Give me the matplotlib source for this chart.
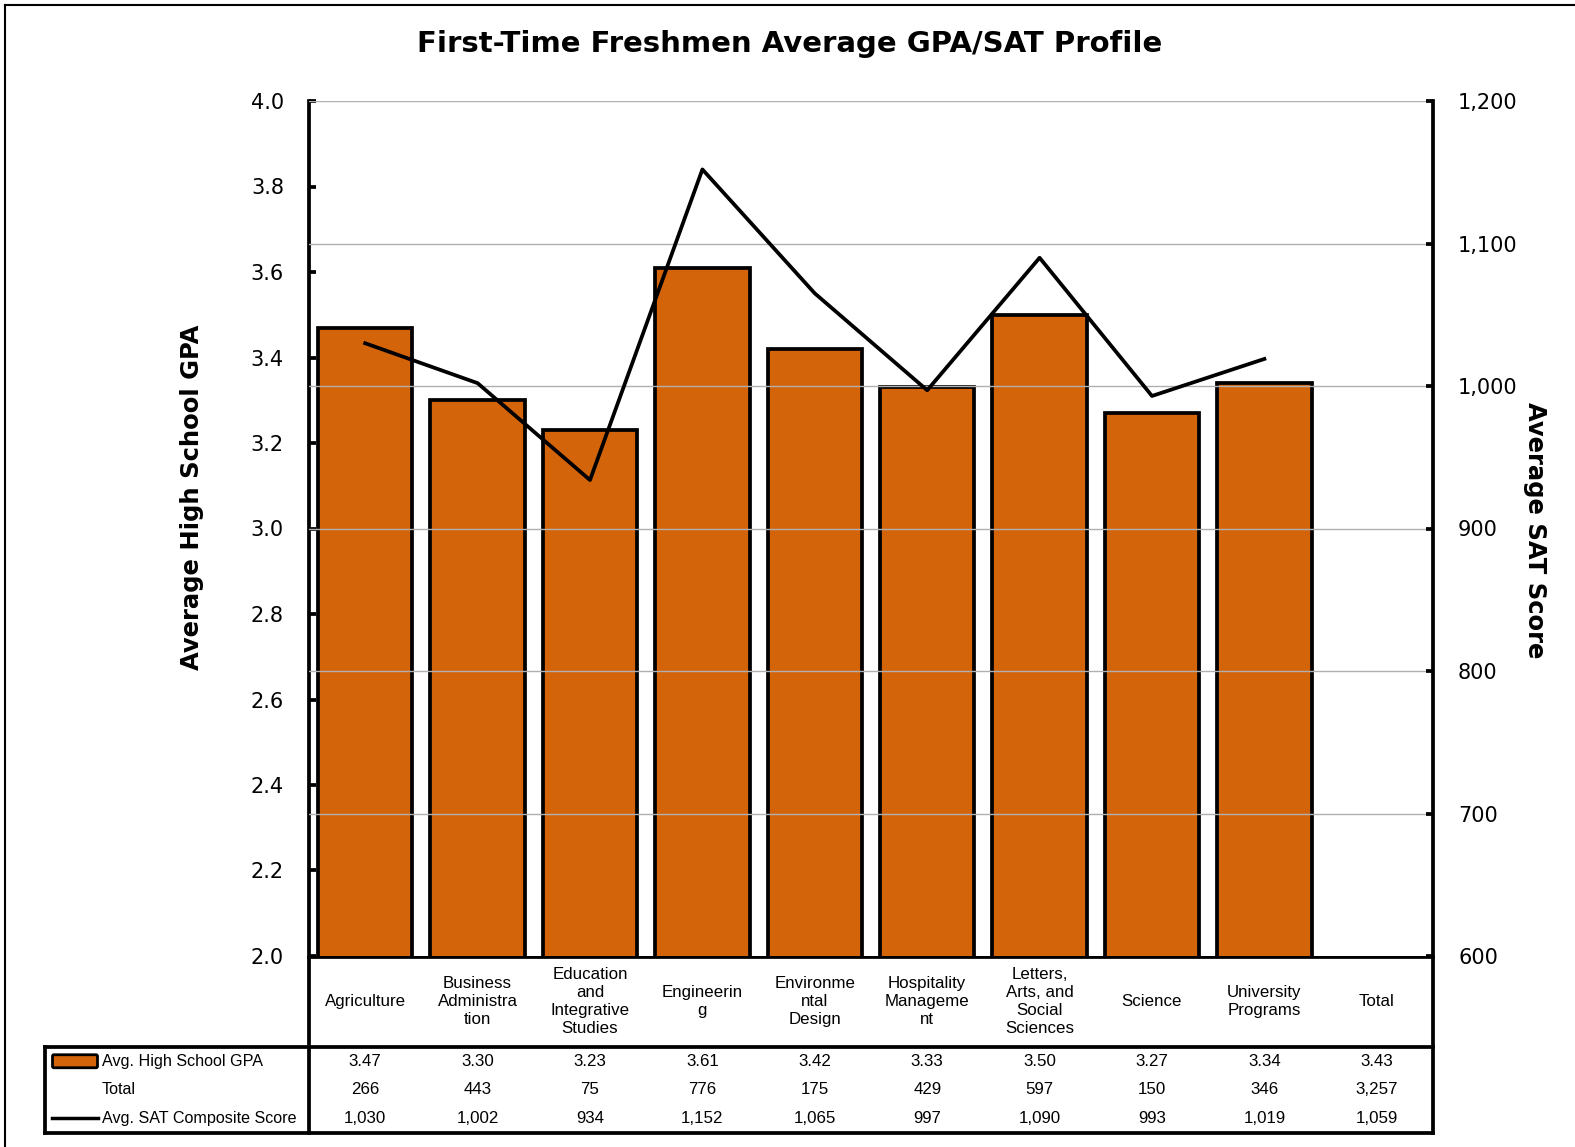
import matplotlib
matplotlib.use("Agg")
import matplotlib.pyplot as plt
from matplotlib.patches import FancyBboxPatch
from matplotlib.lines import Line2D

categories = ["Agriculture", "Business\nAdministra\ntion", "Education\nand\nIntegrative\nStudies",
              "Engineerin\ng", "Environme\nntal\nDesign", "Hospitality\nManageme\nnt",
              "Letters,\nArts, and\nSocial\nSciences", "Science", "University\nPrograms", "Total"]
gpa = [3.47, 3.30, 3.23, 3.61, 3.42, 3.33, 3.50, 3.27, 3.34, 3.43]
headcount = [266, 443, 75, 776, 175, 429, 597, 150, 346, 3257]
sat = [1030, 1002, 934, 1152, 1065, 997, 1090, 993, 1019, 1059]
gpa_ticks = [2.0, 2.2, 2.4, 2.6, 2.8, 3.0, 3.2, 3.4, 3.6, 3.8, 4.0]
sat_ticks = [600, 700, 800, 900, 1000, 1100, 1200]

ORANGE = "#D4640A"
W, H = 1575, 1147
TABLE_FONT = ["Liberation Sans", "DejaVu Sans"]
TFS = 12.2

plt.rcParams["font.family"] = "DejaVu Sans"

fig = plt.figure(figsize=(W / 100, H / 100), dpi=100)


def fx(px):
    return px / W


def fy(py):
    return 1 - py / H


# plot area in pixels
L, R, T, B = 309, 1433, 101, 956
ax = fig.add_axes([fx(L), fy(B), fx(R - L), fy(T) - fy(B)])
ax2 = ax.twinx()
ax.set_zorder(ax2.get_zorder() - 1)
ax.patch.set_visible(False)

n = len(categories) - 1  # no bar / point for Total
x = list(range(n))
ax.bar(x, gpa[:n], width=0.84, color=ORANGE, edgecolor="black", linewidth=2.7, zorder=3)
ax2.plot(x, sat[:n], color="black", lw=2.7, zorder=4)

ax.set_xlim(-0.5, len(categories) - 0.5)
ax.set_ylim(2.0, 4.0)
ax.set_yticks(gpa_ticks)
ax.set_yticklabels([f"{v:.1f}" for v in gpa_ticks])
ax2.set_ylim(600, 1200)
ax2.set_yticks(sat_ticks)
ax2.set_yticklabels([f"{v:,}" for v in sat_ticks])
ax.set_xticks([])

# gridlines follow the SAT axis
for v in sat_ticks[1:]:
    ax2.axhline(v, color="#b0b0b0", lw=1, zorder=0)

for a in (ax, ax2):
    for s in a.spines.values():
        s.set_visible(False)
ax.spines["left"].set_visible(True)
ax.spines["left"].set_linewidth(2.7)
ax2.spines["right"].set_visible(True)
ax2.spines["right"].set_linewidth(2.7)
ax.tick_params(axis="y", direction="in", length=5, width=2.7, labelsize=15, pad=18)
ax2.tick_params(axis="y", direction="in", length=5, width=2.7, labelsize=15, pad=18)

fig.text(fx(192), fy(497), "Average High School GPA", rotation=90, fontsize=17.5,
         fontweight="bold", ha="center", va="center")
fig.text(fx(1535), fy(530), "Average SAT Score", rotation=-90, fontsize=17.5,
         fontweight="bold", ha="center", va="center")
fig.text(fx(790), fy(44), "First-Time Freshmen Average GPA/SAT Profile", fontsize=21,
         fontweight="bold", ha="center", va="center")

# data table below the plot, drawn in pixel units
tab = fig.add_axes([fx(0), fy(H), 1, fy(B) - fy(H)])
tab.set_xlim(0, W)
tab.set_ylim(H, B)
tab.axis("off")

col_w = (R - L) / len(categories)
hdr_bot = 1047
row_h = 28.5
tbl_left, tbl_bot = 45, 1133
lk = dict(color="black", solid_capstyle="projecting")
tab.plot([L, R], [B + 1, B + 1], lw=2.7, **lk)
tab.plot([L, L], [B, tbl_bot], lw=2.7, **lk)
tab.plot([R, R], [B, tbl_bot], lw=2.7, **lk)
tab.plot([tbl_left, R], [hdr_bot, hdr_bot], lw=2.7, **lk)
tab.plot([tbl_left, tbl_left], [hdr_bot, tbl_bot], lw=2.7, **lk)
tab.plot([tbl_left, R], [tbl_bot, tbl_bot], lw=2.7, **lk)

for i, c in enumerate(categories):
    cx = L + (i + 0.5) * col_w
    tab.text(cx, (B + hdr_bot) / 2, c, ha="center", va="center", fontsize=TFS,
             family=TABLE_FONT, linespacing=1.25)
    tab.text(cx, hdr_bot + 0.5 * row_h, f"{gpa[i]:.2f}", ha="center", va="center",
             fontsize=TFS, family=TABLE_FONT)
    tab.text(cx, hdr_bot + 1.5 * row_h, f"{headcount[i]:,}", ha="center", va="center",
             fontsize=TFS, family=TABLE_FONT)
    tab.text(cx, hdr_bot + 2.5 * row_h, f"{sat[i]:,}", ha="center", va="center",
             fontsize=TFS, family=TABLE_FONT)

row_names = ["Avg. High School GPA", "Total", "Avg. SAT Composite Score"]
for j, name in enumerate(row_names):
    tab.text(102, hdr_bot + (j + 0.5) * row_h, name, ha="left", va="center",
             fontsize=11.6, family=TABLE_FONT)
tab.add_patch(FancyBboxPatch((54, hdr_bot + 0.5 * row_h - 5), 42, 10,
                             boxstyle="round,pad=1.5", facecolor=ORANGE,
                             edgecolor="black", lw=2))
tab.add_line(Line2D([52, 98], [hdr_bot + 2.5 * row_h] * 2, color="black", lw=2.5))

# outer chart border
fig.add_artist(Line2D([fx(5), fx(5)], [fy(5), 0], color="black", lw=1.5))
fig.add_artist(Line2D([fx(5), 1], [fy(5), fy(5)], color="black", lw=1.5))

fig.savefig("out.png", dpi=100)
